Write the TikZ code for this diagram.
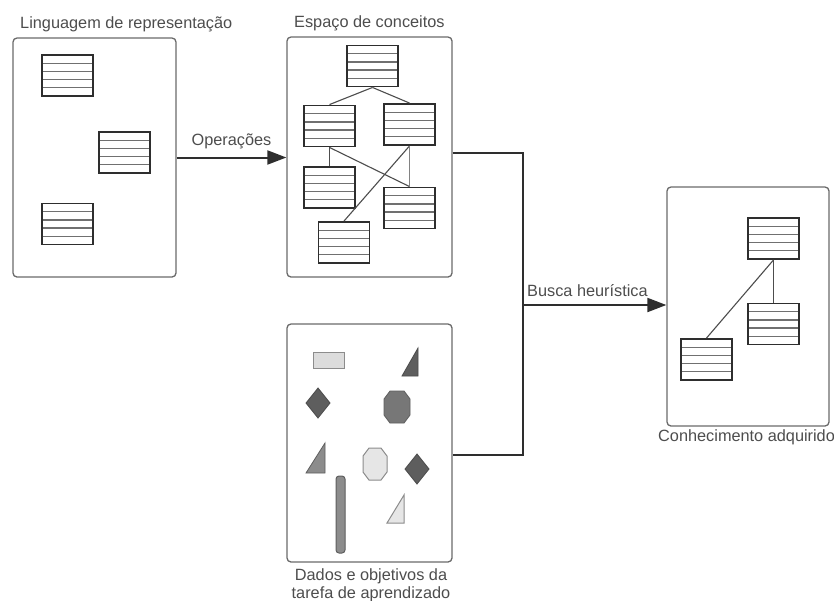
\documentclass[tikz,border=0pt]{standalone}
\usepackage{fontspec}
\setmainfont{Liberation Sans}
\usetikzlibrary{arrows.meta,calc}

\definecolor{ink}{HTML}{2E2E2E}
\definecolor{frame}{HTML}{6A6A6A}
\definecolor{rowline}{HTML}{707070}
\definecolor{darkshape}{HTML}{5E5E5E}
\definecolor{midshape}{HTML}{8C8C8C}
\definecolor{lightshape}{HTML}{DCDCDC}

\tikzset{
  panel/.style={draw=frame, line width=1.3pt, rounded corners=4pt, fill=white},
  tbl/.style={draw=ink, line width=1.9pt, minimum width=51pt, minimum height=41pt,
    inner sep=0pt, fill=white,
    path picture={
      \foreach \k in {1,...,4}{
        \draw[rowline, line width=1.3pt]
          ($(path picture bounding box.south west)!\k/5!(path picture bounding box.north west)$) --
          ($(path picture bounding box.south east)!\k/5!(path picture bounding box.north east)$);
      }}},
  link/.style={draw=ink!85, line width=1.1pt},
  thinlink/.style={draw=ink!60, line width=0.7pt},
  flow/.style={draw=ink, line width=2pt},
  flowarrow/.style={flow, -{Triangle[length=19pt,width=14pt]}},
  lbl/.style={text=ink!85, font=\fontsize{16.3}{18}\selectfont, inner sep=0pt},
}

\begin{document}
\begin{tikzpicture}[x=1pt, y=-1pt]
\useasboundingbox (0,0) rectangle (834,600);

% panels
\node[panel, minimum width=163pt, minimum height=239pt] (b1) at (94.5,157.5) {};
\node[panel, minimum width=165pt, minimum height=240pt] (b2) at (369.5,157) {};
\node[panel, minimum width=165pt, minimum height=238pt] (b3) at (369.5,443) {};
\node[panel, minimum width=162pt, minimum height=239pt] (b4) at (748,306.5) {};

% panel captions
\node[lbl, anchor=west] (cap1) at (20,24) {Linguagem de representação};
\node[lbl, anchor=west] (cap2) at (294,23) {Espaço de conceitos};
\node[lbl, align=center] (cap3) at (371,585) {Dados e objetivos da\\tarefa de aprendizado};
\node[lbl, anchor=west] (cap4) at (658,437) {Conhecimento adquirido};

% representation language: loose tables
\node[tbl] (r1) at (67.5,75.5) {};
\node[tbl] (r2) at (124.5,152.5) {};
\node[tbl] (r3) at (67.5,224) {};

% concept space: linked tables
\node[tbl] (ca) at (372.5,66) {};
\node[tbl] (cb) at (329.5,126) {};
\node[tbl] (cc) at (409.5,124.5) {};
\node[tbl] (cd) at (329.5,187.5) {};
\node[tbl] (ce) at (409.5,208) {};
\node[tbl] (cf) at (344,242.5) {};
\draw[link] (ca.south) -- (cb.north);
\draw[link] (ca.south) -- (cc.north);
\draw[link] (cb.south) -- (cd.north);
\draw[link] (cb.south) -- (ce.north);
\draw[link] (cc.south) -- (cf.north);
\draw[thinlink] (cc.south) -- (ce.north);

% acquired knowledge
\node[tbl] (k1) at (773.5,238.5) {};
\node[tbl] (k2) at (773.5,324) {};
\node[tbl] (k3) at (706.5,359.5) {};
\draw[link] (k1.south) -- (k2.north);
\draw[link] (k1.south) -- (k3.north);

% task data: assorted shapes
\draw[draw=midshape, line width=1pt, fill=lightshape] (313,352) rectangle (344,368);
\draw[draw=darkshape!80!black, line width=0.8pt, fill=darkshape] (402,376) -- (418,376) -- (418,348) -- cycle;
\draw[draw=darkshape!80!black, line width=0.8pt, fill=darkshape] (318,388) -- (330,403) -- (318,418) -- (306,403) -- cycle;
\draw[draw=darkshape, line width=0.8pt, fill=midshape!85!black]
  (384,399) -- (384,415) -- (390,423) -- (404,423) -- (410,415) -- (410,399) -- (404,391) -- (390,391) -- cycle;
\draw[draw=darkshape, line width=0.8pt, fill=midshape] (306,473) -- (325,473) -- (325,443) -- cycle;
\draw[draw=midshape, line width=1pt, fill=lightshape!70!white]
  (363,456) -- (363,472) -- (369,480) -- (381,480) -- (387,472) -- (387,456) -- (381,448) -- (369,448) -- cycle;
\draw[draw=darkshape!80!black, line width=0.8pt, fill=darkshape] (417,454) -- (429,469) -- (417,484) -- (405,469) -- cycle;
\draw[draw=darkshape, line width=1pt, fill=midshape, rounded corners=3pt] (336,476) rectangle (345,553);
\draw[draw=midshape, line width=1pt, fill=lightshape!70!white] (387,523) -- (404,523) -- (404,495) -- cycle;

% operations
\draw[flowarrow] (b1.east) -- (b1.east -| b2.west)
  node[lbl, pos=0.5, above=8pt] (opl) {Operações};

% heuristic search
\coordinate (jt) at (523,153);
\coordinate (jb) at (523,455);
\coordinate (jm) at (523,305);
\draw[flow] (jt -| b2.east) -- (jt) -- (jb) -- (jb -| b3.east);
\draw[flowarrow] (jm) -- (jm -| b4.west);
\node[lbl, anchor=west] (hl) at (527,291) {Busca heurística};
\end{tikzpicture}
\end{document}
